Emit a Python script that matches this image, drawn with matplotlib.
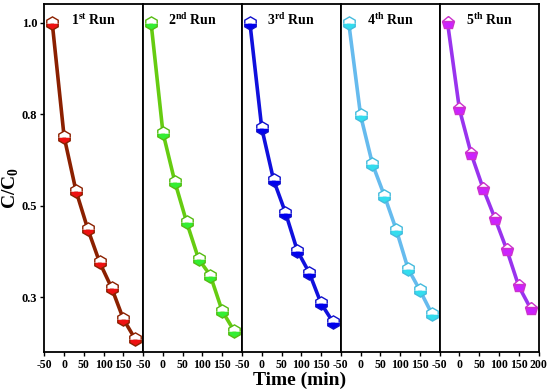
import matplotlib.pyplot as plt
import numpy as np

plt.rcParams['font.family'] = ['Liberation Serif', 'DejaVu Serif']
plt.rcParams['font.weight'] = 'bold'
plt.rcParams['mathtext.fontset'] = 'custom'
plt.rcParams['mathtext.rm'] = 'Liberation Serif:bold'
plt.rcParams['mathtext.bf'] = 'Liberation Serif:bold'
plt.rcParams['axes.unicode_minus'] = False

# time points (min)
time = [-30, 0, 30, 60, 90, 120, 150, 180]

# C/C0 for each run
run1 = [1.0, 0.689, 0.541, 0.436, 0.345, 0.276, 0.190, 0.135]
run2 = [1.0, 0.700, 0.566, 0.455, 0.355, 0.309, 0.212, 0.158]
run3 = [1.0, 0.712, 0.570, 0.481, 0.377, 0.317, 0.233, 0.182]
run4 = [1.0, 0.747, 0.614, 0.528, 0.435, 0.328, 0.269, 0.205]
run5 = [1.0, 0.764, 0.641, 0.547, 0.465, 0.379, 0.280, 0.219]

runs = [run1, run2, run3, run4, run5]
titles = [r'1$^{\mathbf{st}}$ Run', r'2$^{\mathbf{nd}}$ Run', r'3$^{\mathbf{rd}}$ Run',
          r'4$^{\mathbf{th}}$ Run', r'5$^{\mathbf{th}}$ Run']
line_colors = ['#8B2000', '#66CC11', '#1010DD', '#66BBEE', '#9933EE']
face_colors = ['#EE1111', '#33EE33', '#0000EE', '#33DDEE', '#CC22FF']
edge_colors = ['#8B2000', '#55BB11', '#1010CC', '#44BBDD', '#CC33CC']
markers = ['h', 'h', 'h', 'h', 'p']

fig = plt.figure(figsize=(5.5, 3.92), dpi=100)

left = 0.0806
width = 0.1797
bottom = 0.102
height = 0.888

for i in range(5):
    ax = fig.add_axes([left + i * width, bottom, width, height])
    ax.plot(time, runs[i], color=line_colors[i], lw=2.6, zorder=2)
    ax.plot(time, runs[i], linestyle='none', marker=markers[i], markersize=9.5,
            fillstyle='bottom', markerfacecolor=face_colors[i],
            markerfacecoloralt='white', markeredgecolor=edge_colors[i],
            markeredgewidth=1.0, zorder=3)
    ax.set_xlim(-50, 200)
    ax.set_ylim(0.1, 1.052)
    if i < 4:
        xt = [-50, 0, 50, 100, 150]
    else:
        xt = [-50, 0, 50, 100, 150, 200]
    ax.set_xticks(xt)
    ax.set_xticklabels([str(v) for v in xt], fontweight='bold')
    ax.tick_params(axis='x', labelsize=8.5, length=3, width=1, pad=2)
    if i == 0:
        ax.set_yticks([1.0, 0.75, 0.5, 0.25])
        ax.set_yticklabels(['1.0', '0.8', '0.5', '0.3'], fontweight='bold')
        ax.tick_params(axis='y', labelsize=9, length=3, width=1, pad=2)
    else:
        ax.set_yticks([])
    for sp in ax.spines.values():
        sp.set_linewidth(1.3)
    ax.text(0.5, 0.955, titles[i], transform=ax.transAxes, ha='center', va='center',
            fontsize=10, fontweight='bold')

fig.text(0.02, 0.52, r'C/C$_\mathbf{0}$', rotation=90, ha='center', va='center',
         fontsize=14, fontweight='bold')
fig.text(0.545, 0.031, 'Time (min)', ha='center', va='center', fontsize=14, fontweight='bold')

fig.savefig('out.png', dpi=100)
